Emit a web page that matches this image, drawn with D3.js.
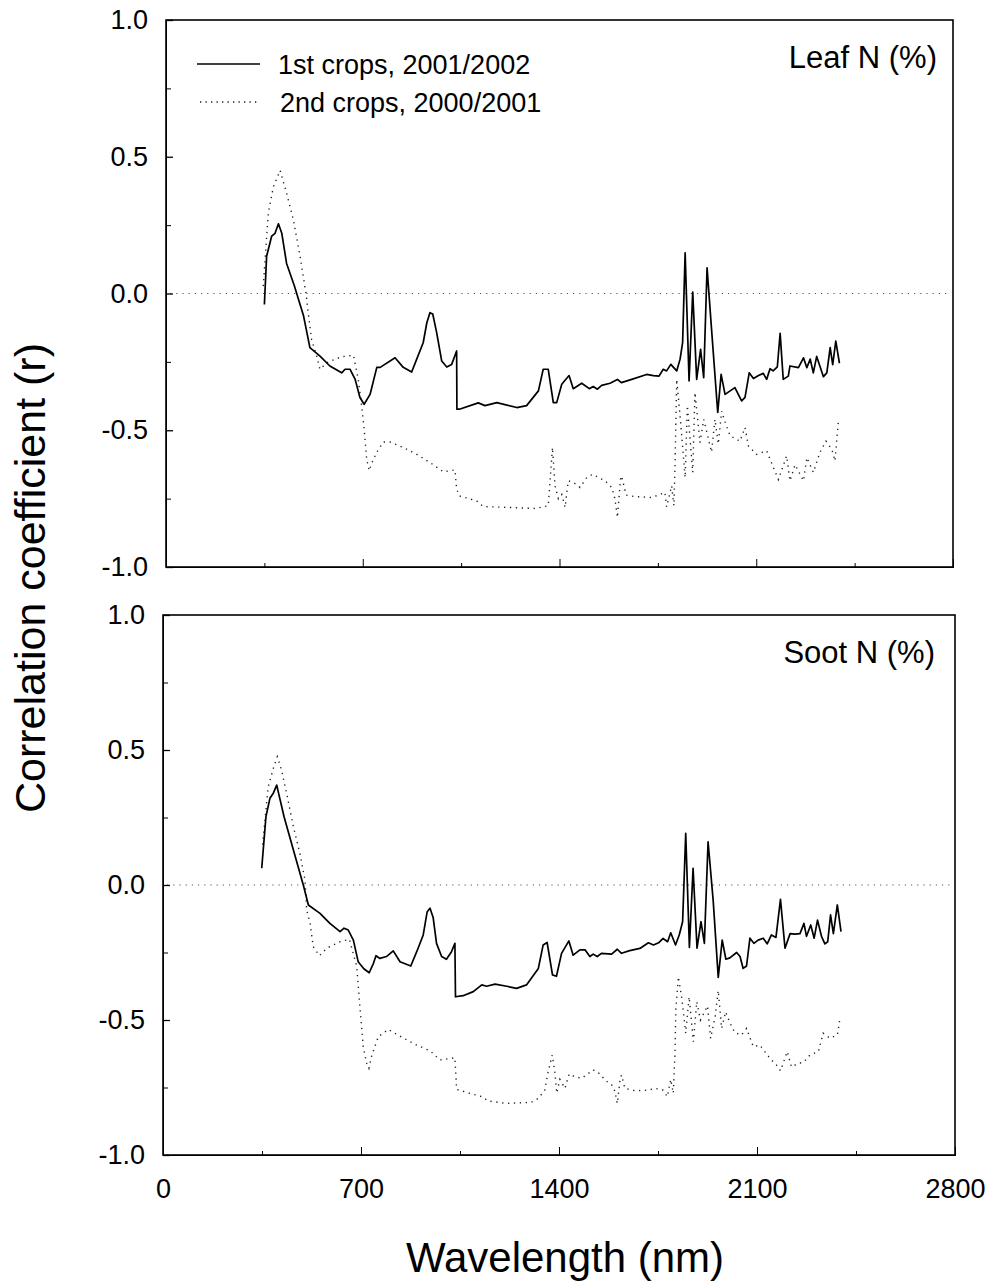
<!DOCTYPE html>
<html>
<head>
<meta charset="utf-8">
<script src="https://cdn.jsdelivr.net/npm/d3@7"></script>
<style>
    body { margin: 0; background: #fff; }
    svg { display: block; font-family: "Liberation Sans", Arial, sans-serif; }
</style>
</head>
<body>
<div id="chart"></div>
<script>
/*global d3 */
"use strict";

// wavelength (nm), correlation coefficient r
var leaf1st = [[350,-0.04],[358,0.136],[376,0.21],[388,0.22],[400,0.255],[412,0.22],[429,0.11],[456,0.03],[489,-0.08],[512,-0.198],[548,-0.229],[583,-0.265],[625,-0.29],[637,-0.277],[655,-0.277],[673,-0.314],[690,-0.38],[705,-0.405],[726,-0.369],[750,-0.27],[762,-0.27],[815,-0.235],[844,-0.27],[874,-0.287],[892,-0.24],[915,-0.18],[928,-0.107],[939,-0.07],[949,-0.075],[963,-0.143],[981,-0.247],[999,-0.269],[1016,-0.26],[1034,-0.21],[1035,-0.423],[1044,-0.423],[1111,-0.40],[1135,-0.41],[1177,-0.399],[1248,-0.417],[1283,-0.41],[1325,-0.356],[1342,-0.277],[1360,-0.277],[1378,-0.399],[1390,-0.399],[1408,-0.332],[1434,-0.30],[1449,-0.348],[1479,-0.328],[1506,-0.348],[1520,-0.34],[1535,-0.35],[1550,-0.336],[1580,-0.328],[1606,-0.314],[1620,-0.326],[1657,-0.314],[1710,-0.296],[1734,-0.30],[1754,-0.302],[1769,-0.277],[1781,-0.283],[1796,-0.259],[1817,-0.283],[1829,-0.24],[1838,-0.18],[1847,0.149],[1861,-0.32],[1874,0.005],[1888,-0.314],[1902,-0.204],[1913,-0.308],[1925,0.094],[1941,-0.131],[1963,-0.435],[1975,-0.296],[1989,-0.369],[2024,-0.344],[2048,-0.393],[2060,-0.38],[2075,-0.29],[2090,-0.311],[2108,-0.30],[2125,-0.292],[2137,-0.314],[2149,-0.275],[2160,-0.283],[2175,-0.268],[2185,-0.146],[2196,-0.314],[2214,-0.302],[2220,-0.265],[2250,-0.271],[2268,-0.235],[2280,-0.271],[2292,-0.24],[2303,-0.29],[2315,-0.23],[2339,-0.304],[2351,-0.29],[2363,-0.198],[2372,-0.26],[2383,-0.174],[2396,-0.255]];

var leaf2nd = [[346,0.027],[364,0.295],[382,0.39],[406,0.45],[429,0.367],[453,0.27],[477,0.136],[498,0.0],[506,-0.07],[518,-0.168],[536,-0.229],[548,-0.277],[572,-0.253],[625,-0.231],[667,-0.226],[684,-0.314],[696,-0.41],[705,-0.496],[714,-0.606],[723,-0.648],[732,-0.62],[750,-0.58],[773,-0.543],[797,-0.543],[844,-0.563],[892,-0.588],[939,-0.618],[987,-0.652],[1028,-0.645],[1034,-0.715],[1044,-0.74],[1105,-0.758],[1129,-0.779],[1212,-0.782],[1313,-0.786],[1360,-0.776],[1375,-0.563],[1384,-0.703],[1396,-0.75],[1408,-0.735],[1420,-0.782],[1431,-0.685],[1449,-0.69],[1473,-0.709],[1497,-0.673],[1518,-0.661],[1562,-0.685],[1586,-0.709],[1597,-0.75],[1606,-0.819],[1617,-0.68],[1621,-0.667],[1637,-0.737],[1663,-0.742],[1728,-0.746],[1752,-0.737],[1775,-0.727],[1781,-0.78],[1799,-0.703],[1807,-0.776],[1811,-0.63],[1817,-0.314],[1830,-0.46],[1847,-0.673],[1855,-0.41],[1874,-0.654],[1882,-0.362],[1900,-0.545],[1913,-0.46],[1930,-0.533],[1941,-0.58],[1953,-0.46],[1965,-0.55],[1977,-0.43],[1989,-0.47],[2007,-0.52],[2042,-0.54],[2060,-0.49],[2072,-0.557],[2101,-0.588],[2137,-0.575],[2161,-0.636],[2179,-0.68],[2208,-0.594],[2220,-0.685],[2238,-0.626],[2268,-0.685],[2280,-0.60],[2303,-0.654],[2327,-0.58],[2348,-0.54],[2369,-0.57],[2380,-0.612],[2392,-0.47]];

var soot1st = [[349,0.062],[364,0.253],[378,0.321],[390,0.34],[402,0.37],[428,0.253],[461,0.13],[496,0.0],[514,-0.074],[555,-0.105],[590,-0.142],[626,-0.173],[640,-0.16],[655,-0.167],[673,-0.204],[690,-0.284],[710,-0.31],[729,-0.325],[744,-0.29],[753,-0.262],[767,-0.272],[790,-0.265],[814,-0.244],[838,-0.284],[876,-0.30],[897,-0.247],[920,-0.185],[934,-0.099],[944,-0.086],[955,-0.12],[967,-0.216],[985,-0.265],[1002,-0.275],[1020,-0.247],[1032,-0.216],[1034,-0.414],[1061,-0.41],[1097,-0.395],[1127,-0.37],[1144,-0.375],[1174,-0.367],[1215,-0.375],[1250,-0.383],[1285,-0.37],[1327,-0.309],[1344,-0.222],[1358,-0.213],[1377,-0.333],[1391,-0.338],[1409,-0.253],[1435,-0.207],[1450,-0.26],[1474,-0.24],[1492,-0.24],[1509,-0.265],[1521,-0.256],[1535,-0.265],[1550,-0.253],[1586,-0.256],[1606,-0.238],[1621,-0.253],[1650,-0.243],[1686,-0.235],[1716,-0.214],[1734,-0.222],[1752,-0.214],[1768,-0.198],[1784,-0.21],[1795,-0.177],[1812,-0.222],[1825,-0.185],[1837,-0.136],[1848,0.191],[1861,-0.231],[1874,0.062],[1888,-0.234],[1902,-0.136],[1914,-0.216],[1927,0.16],[1945,-0.056],[1963,-0.342],[1977,-0.204],[1990,-0.275],[2004,-0.27],[2028,-0.25],[2040,-0.265],[2051,-0.309],[2063,-0.30],[2075,-0.197],[2089,-0.216],[2104,-0.204],[2122,-0.197],[2136,-0.218],[2151,-0.185],[2167,-0.194],[2183,-0.053],[2199,-0.234],[2217,-0.18],[2234,-0.182],[2252,-0.18],[2266,-0.142],[2275,-0.19],[2290,-0.148],[2302,-0.197],[2314,-0.13],[2328,-0.19],[2340,-0.218],[2350,-0.21],[2360,-0.111],[2370,-0.18],[2384,-0.074],[2397,-0.173]];

var soot2nd = [[352,0.15],[372,0.364],[390,0.432],[404,0.475],[419,0.426],[437,0.34],[461,0.216],[484,0.117],[502,0.018],[508,-0.093],[520,-0.14],[531,-0.228],[553,-0.262],[579,-0.234],[626,-0.21],[659,-0.201],[685,-0.302],[696,-0.45],[708,-0.60],[720,-0.66],[728,-0.679],[737,-0.636],[761,-0.562],[797,-0.535],[838,-0.56],[897,-0.593],[944,-0.614],[979,-0.648],[1020,-0.642],[1032,-0.64],[1038,-0.757],[1080,-0.77],[1127,-0.784],[1150,-0.80],[1215,-0.809],[1302,-0.805],[1327,-0.79],[1350,-0.759],[1360,-0.70],[1376,-0.63],[1385,-0.69],[1392,-0.771],[1403,-0.72],[1421,-0.753],[1436,-0.70],[1456,-0.71],[1480,-0.716],[1521,-0.685],[1545,-0.70],[1562,-0.722],[1586,-0.74],[1598,-0.765],[1606,-0.809],[1616,-0.72],[1621,-0.704],[1633,-0.753],[1669,-0.762],[1716,-0.76],[1739,-0.753],[1768,-0.76],[1783,-0.784],[1795,-0.72],[1804,-0.771],[1810,-0.623],[1813,-0.463],[1822,-0.34],[1835,-0.426],[1848,-0.549],[1860,-0.414],[1875,-0.58],[1887,-0.432],[1900,-0.50],[1925,-0.448],[1936,-0.568],[1952,-0.488],[1963,-0.391],[1975,-0.531],[1989,-0.47],[2004,-0.51],[2022,-0.547],[2045,-0.556],[2063,-0.531],[2087,-0.599],[2110,-0.593],[2146,-0.642],[2169,-0.667],[2183,-0.688],[2207,-0.617],[2222,-0.674],[2246,-0.66],[2264,-0.657],[2287,-0.63],[2317,-0.617],[2334,-0.549],[2357,-0.567],[2384,-0.556],[2391,-0.512],[2393,-0.488]];

var xMajorTicks = [0, 700, 1400, 2100, 2800],
    xMinorTicks = [350, 1050, 1750, 2450],
    yMajorTicks = [-1.0, -0.5, 0.0, 0.5, 1.0],
    yMinorTicks = [-0.75, -0.25, 0.25, 0.75],
    seriesNames = ["1st crops, 2001/2002", "2nd crops, 2000/2001"],
    panelTitles = ["Leaf N (%)", "Soot N (%)"];

(function () {

    var width = 996, height = 1284,
        dotDash = "1.3,4.6",
        svg, panels;

    svg = d3.select("#chart").append("svg")
        .attr("width", width).attr("height", height);

    panels = [
        {left: 166, right: 953, top: 20, bottom: 567, title: panelTitles[0],
         s1: leaf1st, s2: leaf2nd, xlabels: false, legend: true,
         titleX: 937, titleY: 68},
        {left: 163, right: 955, top: 615, bottom: 1155, title: panelTitles[1],
         s1: soot1st, s2: soot2nd, xlabels: true, legend: false,
         titleX: 935, titleY: 663}
    ];

    // plain hyphen minus, as in the original figure
    function fmtR(d) {
        return d.toFixed(1);
    }

    function drawPanel(p) {
        var x = d3.scaleLinear().domain([0, 2800]).range([p.left, p.right]),
            y = d3.scaleLinear().domain([-1, 1]).range([p.bottom, p.top]),
            g = svg.append("g"),
            line = d3.line().x(function (d) { return x(d[0]); })
                .y(function (d) { return y(d[1]); }),
            ax;

        // zero reference line
        g.append("line")
            .attr("x1", p.left + 4).attr("x2", p.right - 4)
            .attr("y1", y(0)).attr("y2", y(0))
            .attr("stroke", "#555").attr("stroke-width", 1.2)
            .attr("stroke-dasharray", "1.2,5");

        // y axes (ticks point inward)
        ax = g.append("g").attr("transform", "translate(" + p.left + ",0)")
            .call(d3.axisLeft(y).tickValues(yMajorTicks).tickSize(-7)
                  .tickPadding(18).tickFormat(fmtR));
        ax = ax.merge(g.append("g").attr("transform", "translate(" + p.left + ",0)")
            .call(d3.axisLeft(y).tickValues(yMinorTicks).tickSize(-5)
                  .tickFormat("")));
        // x axes
        ax = ax.merge(g.append("g").attr("transform", "translate(0," + p.bottom + ")")
            .call(d3.axisBottom(x).tickValues(xMajorTicks).tickSize(-8)
                  .tickPadding(24)
                  .tickFormat(p.xlabels ? d3.format("d") : "")));
        ax = ax.merge(g.append("g").attr("transform", "translate(0," + p.bottom + ")")
            .call(d3.axisBottom(x).tickValues(xMinorTicks).tickSize(-4)
                  .tickFormat("")));
        ax.selectAll(".domain").remove();
        ax.selectAll("line").attr("stroke", "#000").attr("stroke-width", 1.3);
        g.selectAll(".tick text").style("font-size", "27px").attr("fill", "#000")
            .style("font-family", "'Liberation Sans', Arial, sans-serif");

        // frame
        g.append("rect")
            .attr("x", p.left).attr("y", p.top)
            .attr("width", p.right - p.left).attr("height", p.bottom - p.top)
            .attr("fill", "none").attr("stroke", "#000").attr("stroke-width", 1.6);

        // series
        g.append("path").datum(p.s2)
            .attr("d", line).attr("fill", "none")
            .attr("stroke", "#222").attr("stroke-width", 1.4)
            .attr("stroke-dasharray", dotDash);
        g.append("path").datum(p.s1)
            .attr("d", line).attr("fill", "none")
            .attr("stroke", "#000").attr("stroke-width", 1.7)
            .attr("stroke-linejoin", "round");

        g.append("text")
            .attr("x", p.titleX).attr("y", p.titleY)
            .attr("text-anchor", "end")
            .style("font-size", "31px")
            .text(p.title);

        if(p.legend) {
            g.append("line").attr("x1", 197).attr("x2", 260)
                .attr("y1", 64).attr("y2", 64)
                .attr("stroke", "#000").attr("stroke-width", 1.6);
            g.append("text").attr("x", 278).attr("y", 74)
                .style("font-size", "27px").text(seriesNames[0]);
            g.append("line").attr("x1", 200).attr("x2", 258)
                .attr("y1", 102).attr("y2", 102)
                .attr("stroke", "#222").attr("stroke-width", 1.4)
                .attr("stroke-dasharray", "1.3,4.2");
            g.append("text").attr("x", 280).attr("y", 112)
                .style("font-size", "27px").text(seriesNames[1]);
        }
    }

    panels.forEach(drawPanel);

    // shared axis titles
    svg.append("text")
        .attr("transform", "translate(45,578) rotate(-90)")
        .attr("text-anchor", "middle")
        .style("font-size", "43px")
        .text("Correlation coefficient (r)");
    svg.append("text")
        .attr("x", 565).attr("y", 1272)
        .attr("text-anchor", "middle")
        .style("font-size", "42px")
        .text("Wavelength (nm)");
}());
</script>
</body>
</html>
